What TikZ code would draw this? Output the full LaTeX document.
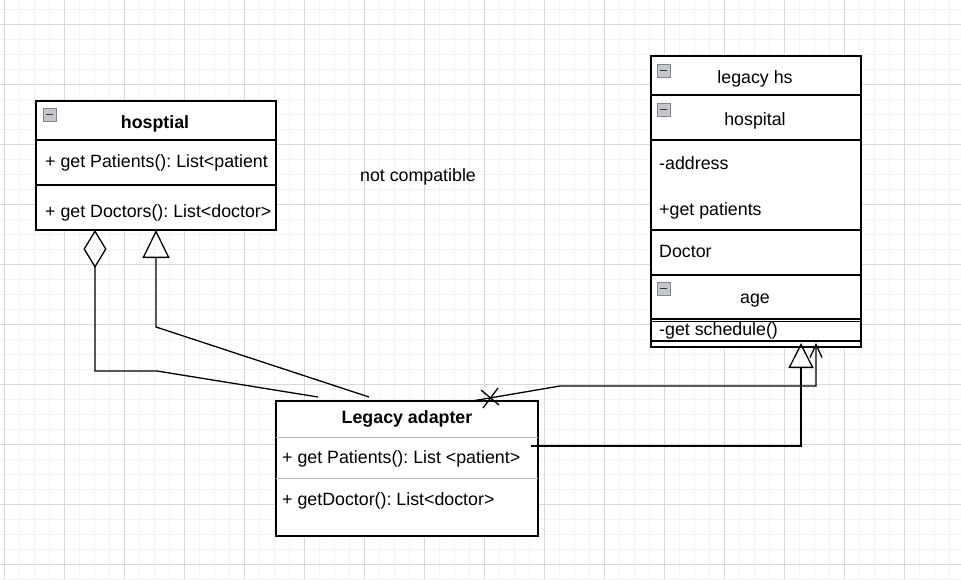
\documentclass[tikz,border=0pt]{standalone}
\usepackage{fontspec}
\setmainfont{Liberation Sans}
\usetikzlibrary{arrows.meta,calc}
\frenchspacing
\definecolor{gridminor}{HTML}{F3F3F3}
\definecolor{gridmajor}{HTML}{D9D9D9}
\definecolor{iconfill}{HTML}{C4C6CC}
\definecolor{iconedge}{HTML}{7F8590}
\tikzset{
  box/.style={draw=black, line width=1.3pt, anchor=north west, inner sep=0pt, outer sep=0pt},
  sepline/.style={line width=1.3pt},
  gsepline/.style={draw=gray!55, line width=1pt},
  txt/.style={font=\fontsize{17.8}{21}\selectfont, inner sep=0pt, anchor=base west},
  ctxt/.style={txt, anchor=base},
  btxt/.style={ctxt, font=\fontsize{17.8}{21}\selectfont\bfseries},
  conn/.style={line width=1.3pt},
  minusbox/.pic={
    \draw[iconedge, fill=iconfill, line width=0.8pt] (0,0) rectangle (13,13);
    \draw[black!80, line width=1.6pt] (3,6.5) -- (10,6.5);
  }
}
\begin{document}
\begin{tikzpicture}[x=1pt,y=-1pt]
\useasboundingbox (0,0) rectangle (961,579);
\fill[white] (0,0) rectangle (961,579);
% grid
\foreach \i in {0,...,64} { \draw[gridminor, line width=1pt] ({4+15*\i},0) -- ({4+15*\i},579); }
\foreach \j in {0,...,38} { \draw[gridminor, line width=1pt] (0,{9+15*\j}) -- (961,{9+15*\j}); }
\foreach \i in {0,...,16} { \draw[gridmajor, line width=1pt] ({4+60*\i},0) -- ({4+60*\i},579); }
\foreach \j in {0,...,9} { \draw[gridmajor, line width=1pt] (0,{24+60*\j}) -- (961,{24+60*\j}); }

% hosptial class
\node[box, fill=white, minimum width=240pt, minimum height=129pt] (hosp) at (36,101) {};
\draw[sepline] ($(hosp.north west)+(0,39)$) -- ($(hosp.north east)+(0,39)$);
\draw[sepline] ($(hosp.north west)+(0,84)$) -- ($(hosp.north east)+(0,84)$);
\pic at (43,108) {minusbox};
\node[btxt] (hospname) at (155,128) {hosptial};
\node[txt] (hospm1) at (45,167) {+ get Patients(): List<patient};
\node[txt] (hospm2) at (45,217) {+ get Doctors(): List<doctor>};

% legacy hs class
\node[box, fill=white, minimum width=210pt, minimum height=291pt] (leg) at (651,56) {};
\foreach \yy in {39,84,174,219,263,265.5,285} {
  \draw[sepline] ($(leg.north west)+(0,\yy)$) -- ($(leg.north east)+(0,\yy)$);
}
\pic at (657,64) {minusbox};
\pic at (657,103) {minusbox};
\pic at (657,282) {minusbox};
\node[ctxt] (legname) at (755,83) {legacy hs};
\node[ctxt] (leghosp) at (755,125) {hospital};
\node[txt] (legaddr) at (659,169) {-address};
\node[txt] (legpat) at (659,215) {+get patients};
\node[txt] (legdoc) at (659,257) {Doctor};
\node[ctxt] (legage) at (755,303) {age};
\node[txt] (legsched) at (659,335) {-get schedule()};

% Legacy adapter class
\node[box, fill=white, minimum width=262pt, minimum height=135pt] (adp) at (276,401) {};
\draw[gsepline] ($(adp.north west)+(0,36)$) -- ($(adp.north east)+(0,36)$);
\draw[gsepline] ($(adp.north west)+(0,77)$) -- ($(adp.north east)+(0,77)$);
\node[btxt] (adpname) at (407,423) {Legacy adapter};
\node[txt] (adpm1) at (282,463) {+ get Patients(): List <patient>};
\node[txt] (adpm2) at (282,505) {+ getDoctor(): List<doctor>};

% free label
\node[ctxt] (nc) at (418,181) {not compatible};

% connectors
\coordinate (aggA) at ($(hosp.south west)+(59,0)$);
\coordinate (aggB) at (95,371);
\coordinate (aggC) at (157,371);
\coordinate (aggD) at ($(adp.north west)+(42,-4)$);
\draw[conn, {Diamond[open, length=38pt, width=23pt]}-] (aggA) -- (aggB) -- (aggC) -- (aggD);

\coordinate (genA) at ($(hosp.south west)+(120,0)$);
\coordinate (genB) at (156,327);
\coordinate (genD) at ($(adp.north west)+(93,-4)$);
\draw[conn, {Triangle[open, length=28pt, width=27pt]}-] (genA) -- (genB) -- (genD);

\coordinate (asA) at ($(adp.north west)+(196,0)$);
\coordinate (asB) at (560,386);
\coordinate (asC) at (816,386);
\coordinate (asD) at ($(leg.south west)+(165,-4)$);
\draw[conn, -{Straight Barb[length=13pt, width=12pt]}] (asA) -- (asB) -- (asC) -- (asD);
\coordinate (xmark) at (490,398);
\draw[conn] ($(xmark)+(-9,-8)$) -- ($(xmark)+(9,7)$);
\draw[conn] ($(xmark)+(-7,10)$) -- ($(xmark)+(8,-10)$);

\coordinate (reA) at ($(adp.north east)+(-7,45)$);
\coordinate (reB) at (801,446);
\coordinate (reD) at ($(leg.south west)+(150,-4)$);
\draw[conn, -{Triangle[open, length=25pt, width=25pt]}] (reA) -- (reB) -- (reD);
\end{tikzpicture}
\end{document}
